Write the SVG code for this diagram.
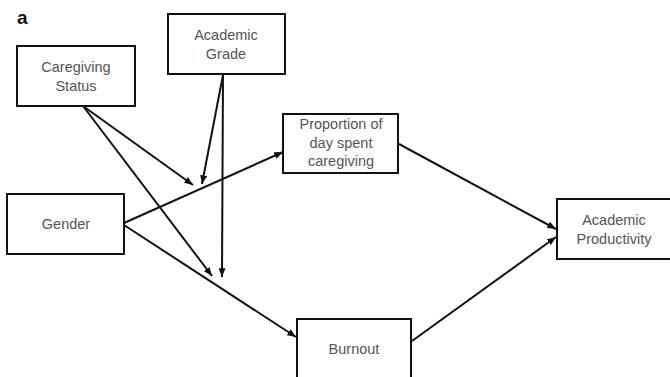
<svg xmlns="http://www.w3.org/2000/svg" width="670" height="377" viewBox="0 0 670 377">
<style>
.box{fill:#fff;stroke:#111;stroke-width:2}
.t{font-family:"Liberation Sans",Arial,sans-serif;font-size:14.5px;fill:#555;text-anchor:middle}
.c{stroke:#111;stroke-width:2;fill:none;marker-end:url(#ah)}
.lbl{font-family:"Liberation Sans",Arial,sans-serif;font-size:19px;font-weight:bold;fill:#111}
</style>
<defs>
<marker id="ah" viewBox="0 0 10 8" refX="10" refY="4" markerWidth="9" markerHeight="7" markerUnits="userSpaceOnUse" orient="auto">
<path d="M0,0 L10,4 L0,8 z" fill="#111"/>
</marker>
</defs>
<rect width="670" height="377" fill="#fff"/>
<text class="lbl" x="17" y="24">a</text>
<g id="connectors">
<line class="c" x1="83" y1="106" x2="193" y2="185"/>
<line class="c" x1="83" y1="106" x2="212" y2="276"/>
<line class="c" x1="223" y1="75" x2="202" y2="184"/>
<line class="c" x1="223" y1="75" x2="222" y2="277"/>
<line class="c" x1="124" y1="223" x2="283" y2="152"/>
<line class="c" x1="124" y1="225" x2="296" y2="337"/>
<line class="c" x1="399" y1="144" x2="556" y2="229"/>
<line class="c" x1="412" y1="341" x2="556" y2="237"/>
</g>
<g id="caregiving-status">
<rect class="box" x="17" y="46" width="118" height="60"/>
<text class="t" x="76" y="72">Caregiving</text>
<text class="t" x="76" y="91">Status</text>
</g>
<g id="academic-grade">
<rect class="box" x="168" y="14" width="117" height="60"/>
<text class="t" x="226" y="40">Academic</text>
<text class="t" x="226" y="59">Grade</text>
</g>
<g id="gender">
<rect class="box" x="7" y="194" width="117" height="60"/>
<text class="t" x="66" y="229">Gender</text>
</g>
<g id="proportion">
<rect class="box" x="283" y="114" width="115" height="59"/>
<text class="t" x="341" y="129">Proportion of</text>
<text class="t" x="341" y="148">day spent</text>
<text class="t" x="341" y="166">caregiving</text>
</g>
<g id="burnout">
<rect class="box" x="297" y="319" width="114" height="70"/>
<text class="t" x="354" y="354">Burnout</text>
</g>
<g id="academic-productivity">
<rect class="box" x="557" y="199" width="120" height="60"/>
<text class="t" x="614" y="225">Academic</text>
<text class="t" x="614" y="244">Productivity</text>
</g>
</svg>
